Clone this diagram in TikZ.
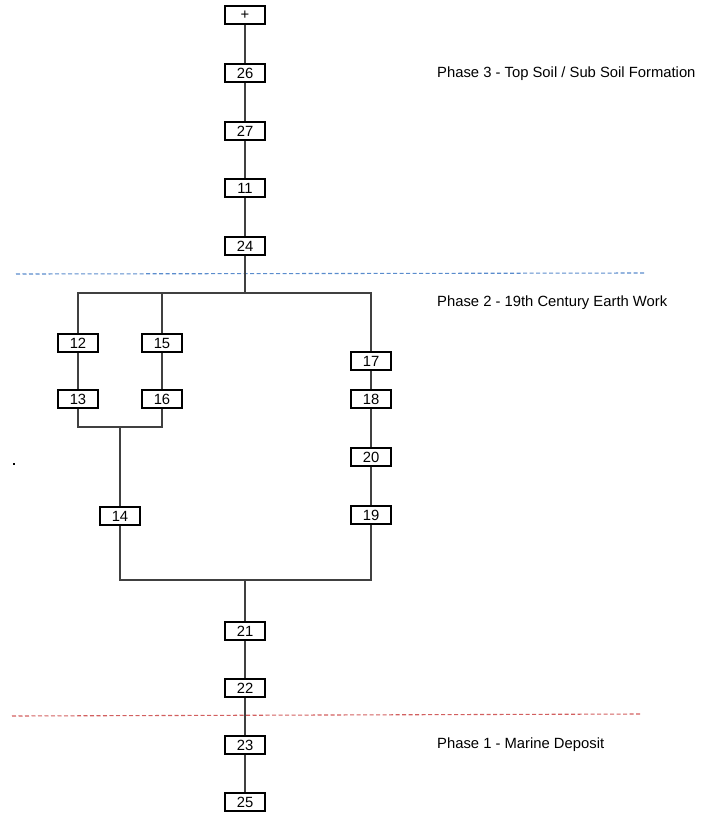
\documentclass[tikz,border=0pt]{standalone}
\usepackage{fontspec}
\setmainfont{Liberation Sans}
\begin{document}
\begin{tikzpicture}[x=1pt,y=-1pt,
  ctx/.style={draw=black,line width=1.8pt,fill=white,minimum width=40pt,minimum height=18pt,inner sep=0pt,font=\fontsize{14.8}{17}\selectfont},
  link/.style={draw=black!75,line width=1.1pt},
  phase/.style={anchor=west,inner sep=0pt,font=\fontsize{14.8}{17}\selectfont},
  bluedash/.style={draw={rgb,255:red,90;green,140;blue,205},line width=1.1pt,dash pattern=on 4pt off 2.5pt},
  reddash/.style={draw={rgb,255:red,210;green,95;blue,95},line width=1.1pt,dash pattern=on 4pt off 2.5pt}]
\useasboundingbox (0,0) rectangle (713,814);
% phase boundaries
\coordinate (b1a) at (16,274); \coordinate (b1b) at (645,273);
\coordinate (b2a) at (12,716); \coordinate (b2b) at (640,714);
\draw[bluedash] (b1a) -- (b1b);
\draw[reddash] (b2a) -- (b2b);
% nodes
\node[ctx] (plus) at (245,15) {+};
\node[ctx] (n26) at (245,73) {26};
\node[ctx] (n27) at (245,131) {27};
\node[ctx] (n11) at (245,188) {11};
\node[ctx] (n24) at (245,246) {24};
\node[ctx] (n12) at (78,343) {12};
\node[ctx] (n15) at (162,343) {15};
\node[ctx] (n13) at (78,399) {13};
\node[ctx] (n16) at (162,399) {16};
\node[ctx] (n14) at (120,516) {14};
\node[ctx] (n17) at (371,361) {17};
\node[ctx] (n18) at (371,399) {18};
\node[ctx] (n20) at (371,457) {20};
\node[ctx] (n19) at (371,515) {19};
\node[ctx] (n21) at (245,631) {21};
\node[ctx] (n22) at (245,688) {22};
\node[ctx] (n23) at (245,745) {23};
\node[ctx] (n25) at (245,802) {25};
% junctions
\coordinate (j1) at (245,293);
\coordinate (j2) at (120,427);
\coordinate (j3) at (245,580);
% connectors
\draw[link] (plus) -- (n26);
\draw[link] (n26) -- (n27);
\draw[link] (n27) -- (n11);
\draw[link] (n11) -- (n24);
\draw[link] (n24) -- (j1);
\draw[link] (n12) |- (j1) -| (n17);
\draw[link] (n15) -- (n15 |- j1);
\draw[link] (n12) -- (n13);
\draw[link] (n15) -- (n16);
\draw[link] (n13) |- (j2) -| (n16);
\draw[link] (j2) -- (n14);
\draw[link] (n17) -- (n18);
\draw[link] (n18) -- (n20);
\draw[link] (n20) -- (n19);
\draw[link] (n14) |- (j3) -| (n19);
\draw[link] (j3) -- (n21);
\draw[link] (n21) -- (n22);
\draw[link] (n22) -- (n23);
\draw[link] (n23) -- (n25);
% labels
\node[phase] (p3) at (437,74) {Phase 3 - Top Soil / Sub Soil Formation};
\node[phase] (p2) at (437,303) {Phase 2 - 19th Century Earth Work};
\node[phase] (p1) at (437,745) {Phase 1 - Marine Deposit};
\node[fill=black,minimum size=1.6pt,inner sep=0pt] (dot) at (14,464) {};
\end{tikzpicture}
\end{document}
